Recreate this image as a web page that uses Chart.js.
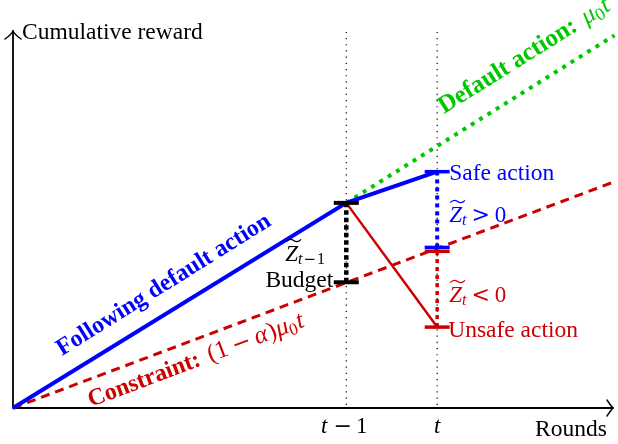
<!DOCTYPE html>
<html><head><meta charset="utf-8">
<style>html,body{margin:0;padding:0;background:#fff;}canvas{display:block;}</style>
<script src="https://cdn.jsdelivr.net/npm/chart.js@4/dist/chart.umd.min.js"></script>
</head><body>
<canvas id="c" width="618" height="444"></canvas>
<script>
// ---- data (schematic units) ----
const roundLabels = ['t − 1', 't'];
const roundValues = [11, 14];
// default action line mu0*t (visible from t-1 onward)
const defaultRounds = [11, 19.85];
const defaultReward = [6.77, 12.3];
// agent following default action, then safe action at t
const agentRounds = [0, 11, 14];
const agentReward = [0, 6.77, 7.8];
// constraint line (1-alpha)*mu0*t
const constraintRounds = [0, 19.8];
const constraintReward = [0, 7.45];
// unsafe action path
const unsafeRounds = [11, 14];
const unsafeReward = [6.77, 2.67];
// budget levels
const budgetPrev = 4.15;      // budget at t-1
const budgetSafe = 5.3;       // constraint level at t (blue mark)
const budgetUnsafe = 5.17;    // constraint level at t (red mark)
const axisMax = {x: 19.77, y: 12.41};

const BLUE = '#0000ff', RED = '#cc0000', GREEN = '#00c800', BLACK = '#000';
const FONT = '"Liberation Serif", "Times New Roman", serif';
const OPF = '"DejaVu Serif", serif';
const f = (size, style) => `${style || ''} ${size}px ${FONT}`;
const op = size => `${size}px ${OPF}`;
const pts = (xs, ys) => xs.map((x, i) => ({x, y: ys[i]}));

function lineDs(data, color, width, dash, order) {
  return {data, showLine: true, borderColor: color, backgroundColor: color, borderWidth: width,
    borderDash: dash || [], pointRadius: 0, order, clip: false, tension: 0};
}
function tickDs(data, color, width, order) {
  return {data, showLine: false, pointStyle: 'line', pointRadius: 12.5, pointBorderWidth: width,
    borderColor: color, backgroundColor: color, borderWidth: width, order, clip: false};
}

const datasets = [
  lineDs(pts([roundValues[0], roundValues[0]], [0.1, axisMax.y]), BLACK, 1.2, [1.2, 5], 100),
  lineDs(pts([roundValues[1], roundValues[1]], [0.1, axisMax.y]), BLACK, 1.2, [1.2, 5], 99),
  lineDs(pts(constraintRounds, constraintReward), RED, 3, [9, 6], 90),
  lineDs(pts(defaultRounds, defaultReward), GREEN, 4, [4, 5.8], 80),
  lineDs(pts(unsafeRounds, unsafeReward), RED, 2.5, [], 70),
  lineDs(pts(agentRounds, agentReward), BLUE, 4, [], 60),
  lineDs(pts([roundValues[0], roundValues[0]], [budgetPrev, agentReward[1]]), BLACK, 4.5, [4.5, 3], 50),
  lineDs(pts([roundValues[1], roundValues[1]], [budgetSafe, agentReward[2]]), BLUE, 4, [4, 4], 49),
  lineDs(pts([roundValues[1], roundValues[1]], [unsafeReward[1], budgetUnsafe]), RED, 3.5, [4, 4], 48),
  tickDs(pts([roundValues[0], roundValues[0]], [agentReward[1], budgetPrev]), BLACK, 4, 10),
  tickDs(pts([roundValues[1]], [budgetSafe]), BLUE, 3.5, 9),
  tickDs(pts([roundValues[1], roundValues[1]], [budgetUnsafe, unsafeReward[1]]), RED, 3.5, 8),
  tickDs(pts([roundValues[1]], [agentReward[2]]), BLUE, 3.5, 7)
];

function drawTilde(ctx, x, y, w) {
  ctx.save();
  ctx.lineWidth = 1.1;
  ctx.beginPath();
  ctx.moveTo(x, y + 1.2);
  ctx.bezierCurveTo(x + w * 0.2, y - 2.2, x + w * 0.35, y - 1.6, x + w * 0.5, y);
  ctx.bezierCurveTo(x + w * 0.65, y + 1.6, x + w * 0.8, y + 2.2, x + w, y - 1.2);
  ctx.stroke();
  ctx.restore();
}

function runs(ctx, x, y, angle, parts, color, align) {
  ctx.save();
  ctx.translate(x, y);
  ctx.rotate(angle || 0);
  ctx.textBaseline = 'alphabetic';
  ctx.textAlign = 'left';
  let total = 0;
  const ws = parts.map(p => { ctx.font = p.font; const w = ctx.measureText(p.t).width + (p.kern || 0); total += w; return w; });
  let cx = align === 'center' ? -total / 2 : align === 'right' ? -total : 0;
  parts.forEach((p, i) => {
    ctx.font = p.font;
    ctx.fillStyle = p.color || color;
    ctx.strokeStyle = p.color || color;
    ctx.fillText(p.t, cx, p.dy || 0);
    if (p.tilde) drawTilde(ctx, cx + 1, -20.5, ws[i] + 2);
    cx += ws[i];
  });
  ctx.restore();
}

const annot = {
  id: 'annot',
  beforeDatasetsDraw(chart) {
    const ctx = chart.ctx, a = chart.chartArea;
    ctx.save();
    ctx.strokeStyle = BLACK; ctx.lineWidth = 1.8; ctx.lineCap = 'round'; ctx.lineJoin = 'round';
    ctx.beginPath();
    ctx.moveTo(a.left, a.bottom); ctx.lineTo(a.left, a.top - 1);
    ctx.moveTo(a.left, a.bottom); ctx.lineTo(a.right + 1, a.bottom);
    ctx.stroke();
    ctx.lineWidth = 1.5;
    ctx.beginPath();
    ctx.moveTo(a.left - 8, a.top + 7); ctx.quadraticCurveTo(a.left - 2, a.top + 3, a.left, a.top - 1);
    ctx.quadraticCurveTo(a.left + 2, a.top + 3, a.left + 8, a.top + 7);
    ctx.moveTo(a.right - 5, a.bottom - 8); ctx.quadraticCurveTo(a.right - 1, a.bottom - 2, a.right + 1, a.bottom);
    ctx.quadraticCurveTo(a.right - 1, a.bottom + 2, a.right - 5, a.bottom + 8);
    ctx.stroke();
    ctx.restore();
  },
  afterDraw(chart) {
    const ctx = chart.ctx, a = chart.chartArea;
    const X = chart.scales.x, Y = chart.scales.y;
    const px = v => X.getPixelForValue(v), py = v => Y.getPixelForValue(v);
    // axis titles
    runs(ctx, a.left + 9, a.top + 7, 0, [{t: 'Cumulative reward', font: f(23.5)}], BLACK);
    runs(ctx, a.right - 77, a.bottom + 28, 0, [{t: 'Rounds', font: f(23.5)}], BLACK);
    // round tick labels
    runs(ctx, px(roundValues[0]) - 2, a.bottom + 25, 0,
      [{t: 't', font: f(23, 'italic'), kern: 6}, {t: '−', font: op(22), kern: 4}, {t: '1', font: f(23)}], BLACK, 'center');
    runs(ctx, px(roundValues[1]), a.bottom + 25, 0, [{t: roundLabels[1], font: f(23, 'italic')}], BLACK, 'center');
    // point labels
    runs(ctx, px(roundValues[1]) + 12, py(agentReward[2]) + 8, 0, [{t: 'Safe action', font: f(23.5)}], BLUE);
    runs(ctx, px(roundValues[1]) + 11, py(unsafeReward[1]) + 10, 0, [{t: 'Unsafe action', font: f(23.5)}], RED);
    runs(ctx, px(roundValues[0]) - 13, py(budgetPrev) + 5, 0, [{t: 'Budget', font: f(23.5)}], BLACK, 'right');
    runs(ctx, px(roundValues[0]) - 61, 261, 0,
      [{t: 'Z', font: f(23, 'italic'), tilde: true}, {t: 't', font: f(16, 'italic'), dy: 3, kern: 1},
       {t: '−', font: op(15), dy: 3, kern: 1}, {t: '1', font: f(16), dy: 3}], BLACK);
    runs(ctx, px(roundValues[1]) + 12, 222, 0,
      [{t: 'Z', font: f(23, 'italic'), tilde: true}, {t: 't', font: f(16, 'italic'), dy: 3, kern: 5},
       {t: '>', font: op(22), kern: 5}, {t: '0', font: f(23)}], BLUE);
    runs(ctx, px(roundValues[1]) + 12, 302, 0,
      [{t: 'Z', font: f(23, 'italic'), tilde: true}, {t: 't', font: f(16, 'italic'), dy: 3, kern: 5},
       {t: '<', font: op(22), kern: 5}, {t: '0', font: f(23)}], RED);
    // rotated labels
    const angD = Math.atan2(py(defaultReward[1]) - py(defaultReward[0]), px(defaultRounds[1]) - px(defaultRounds[0]));
    const angC = Math.atan2(py(constraintReward[1]) - py(constraintReward[0]), px(constraintRounds[1]) - px(constraintRounds[0]));
    runs(ctx, 444, 114, angD,
      [{t: 'Default action: ', font: f(25, 'bold'), kern: 3}, {t: 'μ', font: f(25, 'italic')},
       {t: '0', font: f(18), dy: 4, kern: 1}, {t: 't', font: f(25, 'italic')}], GREEN);
    runs(ctx, 62, 356, angD, [{t: 'Following default action', font: f(24, 'bold')}], BLUE);
    runs(ctx, 91, 407, angC,
      [{t: 'Constraint: ', font: f(24, 'bold'), kern: 3}, {t: '(1', font: f(25), kern: 5}, {t: '−', font: op(23), kern: 5},
       {t: 'α', font: f(25, 'italic'), kern: 1}, {t: ')', font: f(25)}, {t: 'μ', font: f(25, 'italic')},
       {t: '0', font: f(17), dy: 4, kern: 1}, {t: 't', font: f(25, 'italic')}], RED);
  }
};

new Chart(document.getElementById('c'), {
  type: 'scatter',
  data: {datasets},
  options: {
    responsive: false, animation: false, events: [],
    layout: {autoPadding: false, padding: {left: 13, right: 6, top: 32, bottom: 36}},
    plugins: {legend: {display: false}, tooltip: {enabled: false}},
    scales: {
      x: {type: 'linear', min: 0, max: axisMax.x, display: false},
      y: {type: 'linear', min: 0, max: axisMax.y, display: false}
    }
  },
  plugins: [annot]
});
</script>
</body></html>
